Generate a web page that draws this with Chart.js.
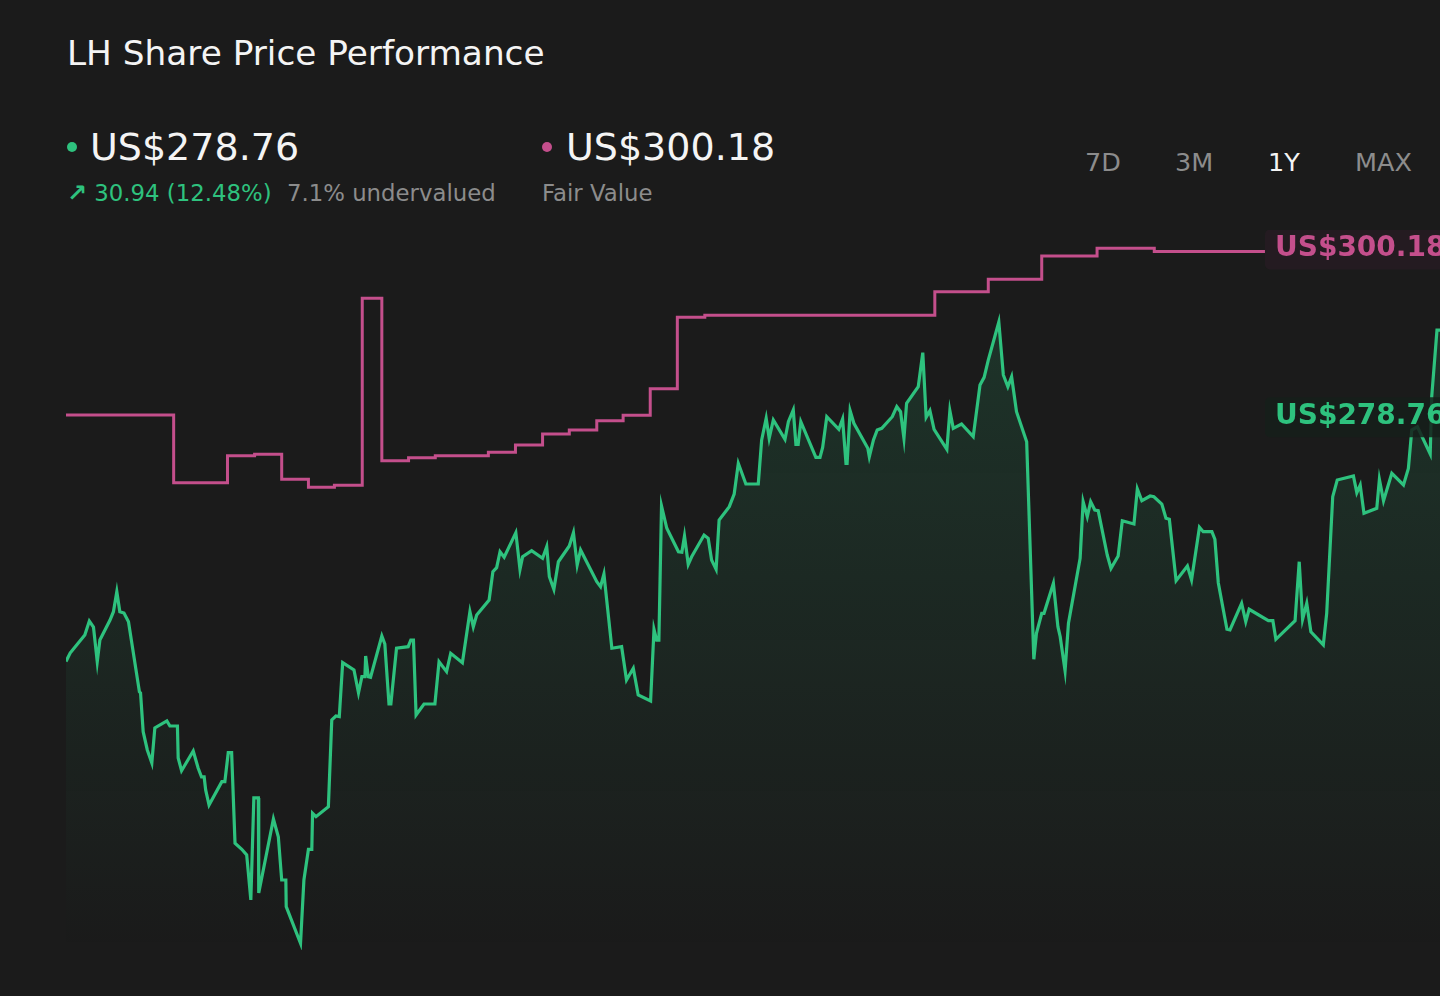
<!DOCTYPE html>
<html>
<head>
<meta charset="utf-8">
<title>LH Share Price Performance</title>
<script src="https://cdn.jsdelivr.net/npm/chart.js@4.4.1/dist/chart.umd.min.js"></script>
<style>
	html, body { margin: 0; padding: 0; background: #1b1b1b; }
	body { width: 1440px; height: 996px; position: relative; overflow: hidden; font-family: 'DejaVu Sans', sans-serif; color: #f4f4f4; }
	.abs { position: absolute; white-space: nowrap; }
	.title { left: 67px; top: 36px; font-size: 34.3px; line-height: 34px; }
	.dot { width: 10px; height: 10px; border-radius: 50%; top: 142px; }
	.big { top: 128px; font-size: 38px; line-height: 38px; }
	.small { top: 182px; font-size: 22.8px; line-height: 23px; color: #8c8c8c; }
	.up { color: #2ec27e; }
	.arrow { font-weight: bold; font-size: 24px; }
	.range { top: 150px; font-size: 25.5px; line-height: 25px; color: #8c8c8c; }
	.range.active { color: #f4f4f4; }
	.chart-box { position: absolute; left: 66px; top: 230px; width: 1374px; height: 720px; }
</style>
</head>
<body>
<div class="abs title" id="title"></div>

<div class="abs dot" style="left:67px;background:#2ec27e"></div>
<div class="abs big" style="left:90px" id="price"></div>
<div class="abs small up" style="left:67px"><span class="arrow">&#8599;</span><span id="change"></span></div>
<div class="abs small" style="left:287px" id="valuation"></div>

<div class="abs dot" style="left:542px;background:#c44f8c"></div>
<div class="abs big" style="left:566px" id="fair"></div>
<div class="abs small" style="left:542px">Fair Value</div>

<div id="ranges"></div>

<div class="chart-box"><canvas id="chart"></canvas></div>

<script>
const ticker = 'LH';
const lastPrice = 278.76;
const priceChange = 30.94;
const priceChangePct = 12.48;
const undervaluedPct = 7.1;
const fairValue = 300.18;

const rangeLabels = ['7D', '3M', '1Y', 'MAX'];
const rangeLeft = [1085, 1175, 1268, 1355];
const activeRange = '1Y';

// calendar days over the last year
const priceDays = [
	0.0, 1.1, 2.4, 5.0, 6.2, 7.3, 8.3, 9.0, 11.7, 12.6, 13.5, 14.3, 15.4, 16.6, 19.5, 19.8, 20.5, 21.6, 22.8, 23.6,
	26.8, 27.6, 29.6, 29.8, 30.7, 33.8, 35.1, 36.0, 36.7, 37.1, 38.0, 41.4, 42.2, 43.1, 44.0, 44.9, 46.7, 48.0, 49.1, 49.9,
	51.1, 51.2, 55.1, 56.4, 57.3, 58.4, 58.5, 62.3, 63.2, 64.4, 65.3, 65.5, 66.4, 69.7, 70.6, 71.7, 72.6, 73.5, 76.5, 77.7,
	78.6, 79.4, 79.6, 80.3, 80.9, 83.9, 84.7, 85.8, 86.3, 87.8, 90.9, 91.6, 92.3, 93.0, 95.1, 98.0, 99.1, 101.1, 102.2, 105.3,
	107.3, 108.2, 109.1, 112.4, 113.4, 114.4, 115.3, 116.4, 119.5, 120.6, 121.3, 123.7, 126.6, 127.7, 128.4, 129.6, 130.8, 133.7, 134.8, 135.8,
	136.7, 141.0, 142.0, 142.9, 145.0, 147.6, 148.9, 150.7, 152.0, 155.3, 156.2, 156.9, 157.5, 158.2, 159.6, 162.7, 163.6, 164.3, 165.3, 166.2,
	169.5, 170.6, 171.5, 172.7, 173.5, 176.2, 177.5, 178.6, 180.6, 183.9, 184.8, 186.0, 186.8, 187.9, 191.0, 191.9, 193.2, 193.9, 194.5, 195.2,
	199.2, 200.3, 201.0, 202.1, 205.3, 206.3, 207.2, 207.5, 208.3, 209.3, 213.0, 213.4, 214.5, 215.5, 216.7, 219.5, 220.7, 221.7, 222.6, 223.3,
	226.4, 227.6, 228.5, 229.5, 230.6, 234.0, 234.8, 235.7, 237.9, 241.0, 242.8, 243.9, 245.0, 247.8, 249.0, 250.2, 251.2, 252.5, 255.2, 257.1,
	257.8, 259.2, 259.8, 262.3, 263.5, 264.1, 265.4, 266.3, 269.4, 270.2, 271.3, 272.2, 273.3, 274.2, 276.6, 277.6, 279.5, 280.6, 283.7, 284.6,
	285.8, 288.0, 289.0, 291.1, 292.2, 293.1, 294.9, 297.9, 299.0, 301.1, 302.1, 304.4, 305.2, 306.1, 308.4, 309.2, 312.3, 313.4, 314.3, 319.4,
	320.6, 321.4, 326.5, 327.6, 328.5, 329.6, 330.7, 334.0, 334.9, 336.5, 337.7, 342.0, 342.9, 343.8, 344.8, 348.2, 348.9, 350.0, 352.2, 355.3,
	356.6, 357.5, 359.0, 362.4, 362.8, 364.2, 365.0
];

const priceValues = [
	247.82, 248.90, 249.67, 251.20, 252.99, 252.22, 247.79, 250.56, 253.12, 254.18, 256.73, 254.18, 254.01, 252.90, 243.96, 243.80, 238.85, 236.52, 234.86, 239.33,
	240.22, 239.58, 239.58, 235.49, 233.87, 236.39, 234.22, 233.07, 233.07, 231.41, 229.49, 232.47, 232.47, 236.17, 236.17, 224.60, 223.83, 223.11, 217.36, 230.39,
	230.39, 218.25, 227.70, 225.44, 219.91, 219.91, 216.50, 211.83, 219.91, 223.83, 223.83, 228.43, 228.00, 229.28, 240.35, 240.86, 240.77, 247.67, 246.73, 243.83,
	245.88, 245.88, 248.52, 245.88, 245.80, 251.08, 250.05, 242.39, 242.39, 249.51, 249.71, 250.56, 250.56, 240.99, 242.39, 242.39, 247.79, 246.52, 248.87, 247.67,
	254.18, 252.26, 253.76, 255.67, 259.29, 259.80, 261.84, 261.13, 264.27, 259.59, 261.20, 261.97, 261.00, 262.48, 258.65, 257.04, 260.56, 262.57, 264.27, 260.14,
	262.06, 258.01, 257.37, 258.99, 249.51, 249.71, 245.46, 246.95, 243.54, 242.77, 251.93, 250.56, 250.56, 267.68, 264.83, 261.84, 261.77, 263.85, 260.23, 261.20,
	263.97, 263.55, 260.78, 259.59, 265.89, 267.59, 269.21, 273.13, 270.49, 270.49, 276.11, 278.88, 276.32, 278.66, 276.20, 278.44, 279.94, 275.56, 275.56, 278.44,
	273.90, 273.90, 275.17, 279.08, 277.47, 278.79, 273.13, 273.13, 279.85, 278.24, 275.05, 273.97, 276.11, 277.38, 277.60, 279.08, 280.36, 279.72, 276.32, 280.79,
	282.91, 287.26, 279.01, 279.85, 277.47, 274.92, 279.85, 277.60, 278.15, 276.53, 283.13, 284.11, 286.32, 291.18, 284.41, 282.91, 284.19, 279.72, 275.89, 248.10,
	251.42, 253.97, 253.97, 257.81, 252.26, 250.99, 246.64, 252.70, 261.00, 268.23, 266.31, 268.23, 267.17, 267.08, 261.42, 259.72, 261.29, 265.80, 265.38, 269.85,
	268.35, 268.95, 268.86, 267.93, 266.11, 265.98, 258.14, 260.02, 258.23, 264.96, 264.40, 264.40, 263.43, 257.88, 251.93, 251.84, 255.25, 252.90, 254.49, 253.03,
	253.03, 250.65, 253.03, 260.56, 253.21, 255.25, 251.62, 249.93, 253.97, 268.87, 271.00, 271.51, 269.38, 270.36, 266.75, 267.38, 271.09, 268.35, 271.85, 270.36,
	272.49, 277.38, 277.80, 274.32, 281.64, 290.15, 290.15
];

// fair value estimate changes (held until the next change)
const fairDays = [0, 28.6, 42.9, 50.1, 57.3, 64.4, 71.3, 78.7, 83.9, 91.0, 98.1, 112.2, 119.4, 126.6, 133.7, 141.0, 148.0, 155.2, 162.4, 169.7, 230.8, 245.0, 259.2, 273.9, 289.1, 318.5];
const fairValues = [279.30, 270.65, 274.10, 274.28, 271.09, 270.07, 270.32, 294.20, 273.46, 273.85, 274.10, 274.54, 275.47, 276.87, 277.38, 278.57, 279.26, 282.66, 291.78, 292.03, 295.05, 296.63, 299.61, 300.59, 300.18, 300.18];

const green = '#2ec27e';
const pink = '#c44f8c';

const money = v => 'US$' + v.toFixed(2);

document.getElementById('title').textContent = ticker + ' Share Price Performance';
document.getElementById('price').textContent = money(lastPrice);
document.getElementById('change').textContent = ' ' + priceChange.toFixed(2) + ' (' + priceChangePct.toFixed(2) + '%)';
document.getElementById('valuation').textContent = undervaluedPct.toFixed(1) + '% undervalued';
document.getElementById('fair').textContent = money(fairValue);

const ranges = document.getElementById('ranges');
rangeLabels.forEach((label, i) => {
	const el = document.createElement('div');
	el.className = 'abs range' + (label === activeRange ? ' active' : '');
	el.style.left = rangeLeft[i] + 'px';
	el.textContent = label;
	ranges.appendChild(el);
});

const endLabels = {
	id: 'endLabels',
	afterDatasetsDraw(chart) {
		const { ctx, chartArea, scales } = chart;
		const items = [
			{ value: fairValue, color: pink, bg: 'rgba(38,27,34,0.88)' },
			{ value: lastPrice, color: green, bg: 'rgba(22,31,27,0.86)' }
		];
		ctx.save();
		ctx.font = 'bold 28px "DejaVu Sans"';
		ctx.textBaseline = 'middle';
		items.forEach(item => {
			const y = scales.y.getPixelForValue(item.value);
			const x = chartArea.right - 175;
			ctx.fillStyle = item.bg;
			ctx.beginPath();
			ctx.roundRect(x, y - 22, 185, 40, 5);
			ctx.fill();
			ctx.fillStyle = item.color;
			ctx.fillText(money(item.value), x + 10, y - 3);
		});
		ctx.restore();
	}
};

const ctx = document.getElementById('chart').getContext('2d');

new Chart(ctx, {
	type: 'line',
	data: {
		datasets: [{
			label: 'Share Price',
			data: priceDays.map((d, i) => ({ x: d, y: priceValues[i] })),
			borderColor: green,
			borderWidth: 3.2,
			pointRadius: 0,
			tension: 0,
			fill: 'start',
			backgroundColor: (context) => {
				const { chartArea } = context.chart;
				if (!chartArea) {
					return 'rgba(46,194,126,0.08)';
				}
				const g = context.chart.ctx.createLinearGradient(0, chartArea.top, 0, chartArea.bottom);
				g.addColorStop(0, 'rgba(46,194,126,0.17)');
				g.addColorStop(1, 'rgba(46,194,126,0)');
				return g;
			}
		}, {
			label: 'Fair Value',
			data: fairDays.map((d, i) => ({ x: d, y: fairValues[i] })),
			borderColor: pink,
			borderWidth: 3,
			pointRadius: 0,
			stepped: true,
			fill: false
		}]
	},
	options: {
		responsive: true,
		maintainAspectRatio: false,
		animation: false,
		layout: { padding: 0 },
		plugins: {
			legend: { display: false },
			tooltip: { enabled: false }
		},
		scales: {
			x: { type: 'linear', min: 0, max: 365, display: false },
			y: { min: 210.97, max: 302.93, display: false }
		}
	},
	plugins: [endLabels]
});
</script>
</body>
</html>
